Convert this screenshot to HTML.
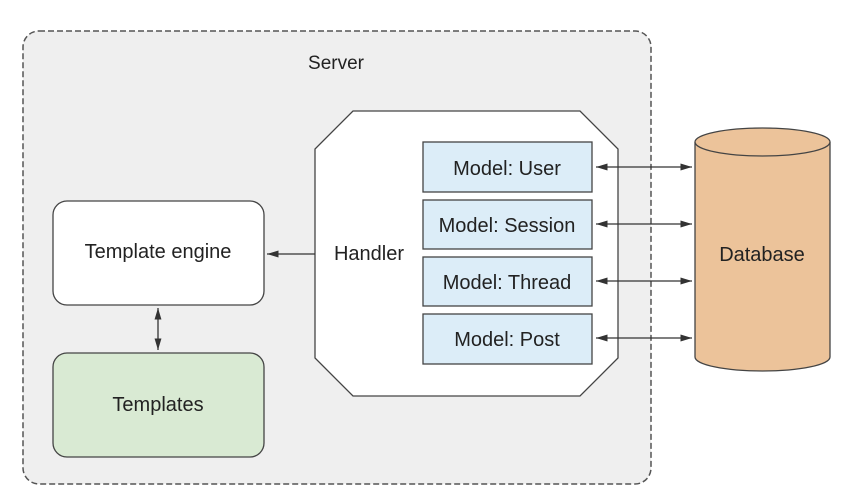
<!DOCTYPE html>
<html><head><meta charset="utf-8"><style>body{margin:0;background:#fff}svg{display:block}</style></head><body>
<svg width="857" height="490" viewBox="0 0 857 490" xmlns="http://www.w3.org/2000/svg" font-family="Liberation Sans, Arial, sans-serif">
<defs><marker id="a" viewBox="0 0 10 10" refX="10" refY="5" markerWidth="9" markerHeight="9" orient="auto-start-reverse"><path d="M0,2 L10,5 L0,8 z" fill="#333"/></marker></defs>
<rect x="23" y="31" width="628" height="453" rx="16" fill="#efefef" stroke="#555" stroke-width="1.5" stroke-dasharray="6,3"/>
<text x="336" y="69" font-size="19" text-anchor="middle" fill="#222">Server</text>
<polygon points="353,111 580,111 618,149 618,358 580,396 353,396 315,358 315,149" fill="#fff" stroke="#444" stroke-width="1.3"/>
<text x="369" y="260" font-size="20" text-anchor="middle" fill="#222">Handler</text>
<g fill="#dcedf8" stroke="#444" stroke-width="1.3">
<rect x="423" y="142" width="169" height="50"/><rect x="423" y="200" width="169" height="49"/><rect x="423" y="257" width="169" height="49"/><rect x="423" y="314" width="169" height="50"/></g>
<g font-size="20" text-anchor="middle" fill="#222">
<text x="507" y="175">Model: User</text><text x="507" y="232">Model: Session</text><text x="507" y="289">Model: Thread</text><text x="507" y="346">Model: Post</text></g>
<g stroke="#333" stroke-width="1.3" marker-start="url(#a)" marker-end="url(#a)">
<line x1="596" y1="167" x2="692" y2="167"/><line x1="596" y1="224" x2="692" y2="224"/><line x1="596" y1="281" x2="692" y2="281"/><line x1="596" y1="338" x2="692" y2="338"/>
<line x1="158" y1="308" x2="158" y2="350"/></g>
<line x1="315" y1="254" x2="267" y2="254" stroke="#333" stroke-width="1.3" marker-end="url(#a)"/>
<path d="M695,142 L695,357 A67.5,14 0 0 0 830,357 L830,142" fill="#ecc39a" stroke="#444" stroke-width="1.3"/>
<ellipse cx="762.5" cy="142" rx="67.5" ry="14" fill="#ecc39a" stroke="#444" stroke-width="1.3"/>
<text x="762" y="261" font-size="20" text-anchor="middle" fill="#222">Database</text>
<rect x="53" y="201" width="211" height="104" rx="14" fill="#fff" stroke="#444" stroke-width="1.3"/>
<text x="158" y="258" font-size="20" text-anchor="middle" fill="#222">Template engine</text>
<rect x="53" y="353" width="211" height="104" rx="14" fill="#d9ead3" stroke="#444" stroke-width="1.3"/>
<text x="158" y="411" font-size="20" text-anchor="middle" fill="#222">Templates</text>
</svg>
</body></html>
